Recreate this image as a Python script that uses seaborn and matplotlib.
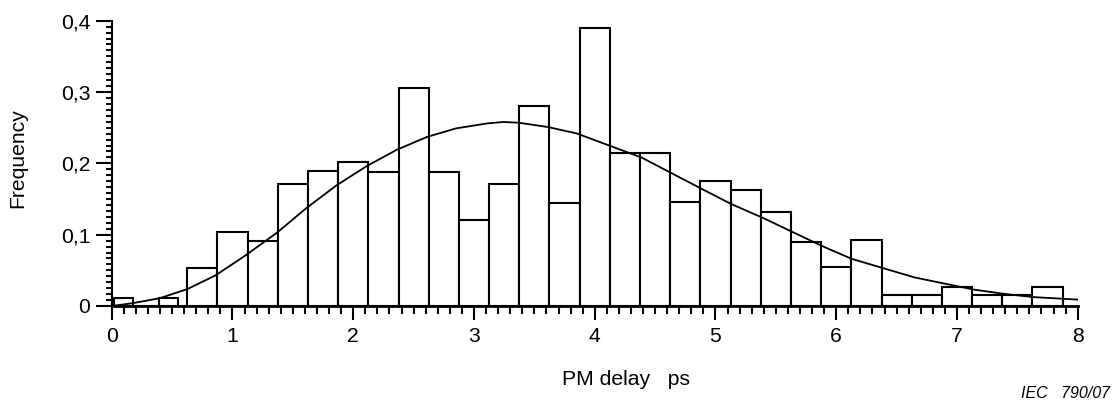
import matplotlib
matplotlib.use("Agg")
import matplotlib.pyplot as plt
from matplotlib.ticker import MultipleLocator
import numpy as np
import seaborn as sns

# ---- data ----
bin_edges = [0.02, 0.175, 0.395, 0.545,
             0.625, 0.875, 1.125, 1.375, 1.625, 1.875, 2.125, 2.375, 2.625, 2.875,
             3.125, 3.375, 3.625, 3.875, 4.125, 4.375, 4.625, 4.875, 5.125, 5.375,
             5.625, 5.875, 6.125, 6.375, 6.625, 6.875, 7.125, 7.375, 7.625, 7.875]
frequency = [0.011, 0.0, 0.011, 0.0,
             0.053, 0.104, 0.091, 0.171, 0.189, 0.202, 0.188, 0.306, 0.188,
             0.120, 0.171, 0.281, 0.144, 0.390, 0.214, 0.214, 0.146, 0.175,
             0.162, 0.132, 0.090, 0.054, 0.092, 0.015, 0.015, 0.026, 0.015,
             0.015, 0.026]

fit_x = [0.0, 0.175, 0.4, 0.63, 0.86, 1.1, 1.37, 1.61, 1.86, 2.11, 2.36, 2.61,
         2.85, 3.11, 3.24, 3.37, 3.61, 3.85, 4.12, 4.39, 4.65, 4.9, 5.13, 5.40,
         5.66, 5.91, 6.13, 6.39, 6.65, 6.88, 7.14, 7.39, 7.63, 8.0]
fit_y = [0.0, 0.004, 0.011, 0.024, 0.043, 0.070, 0.103, 0.137, 0.169, 0.196,
         0.219, 0.237, 0.249, 0.256, 0.258, 0.257, 0.251, 0.242, 0.225, 0.208,
         0.185, 0.163, 0.143, 0.123, 0.102, 0.082, 0.066, 0.053, 0.040, 0.032,
         0.023, 0.017, 0.0125, 0.009]

x_ticks = [0, 1, 2, 3, 4, 5, 6, 7, 8]
x_tick_labels = ["0", "1", "2", "3", "4", "5", "6", "7", "8"]
y_ticks = [0.0, 0.1, 0.2, 0.3, 0.4]
y_tick_labels = ["0", "0,1", "0,2", "0,3", "0,4"]

x_label = "PM delay   ps"
y_label = "Frequency"
source_note = "IEC   790/07"

# ---- style ----
sns.set_theme(style="ticks")
plt.rcParams["font.family"] = ["Liberation Sans", "DejaVu Sans"]
FS = 15.2
plt.rcParams["font.size"] = FS

fig = plt.figure(figsize=(11.13, 4.03), dpi=100)
ax = fig.add_axes([0.1004, 0.2407, 0.8679, 0.7079])

edges = np.array(bin_edges)
centers = (edges[:-1] + edges[1:]) / 2
sns.histplot(x=centers, weights=frequency, bins=bin_edges, stat="count",
             color="white", edgecolor="black", linewidth=1.5, alpha=1.0,
             ax=ax)
sns.lineplot(x=fit_x, y=fit_y, color="black", linewidth=1.3, ax=ax)

ax.set_xlim(0, 8)
ax.set_ylim(0, 0.4)
ax.set_xticks(x_ticks)
ax.set_xticklabels(x_tick_labels)
ax.set_yticks(y_ticks)
ax.set_yticklabels(y_tick_labels)
ax.xaxis.set_minor_locator(MultipleLocator(0.1))
ax.yaxis.set_minor_locator(MultipleLocator(0.1 / 12))

ax.tick_params(axis="x", which="major", direction="out", length=10, width=1.5,
               pad=5, labelsize=FS, color="black", labelcolor="black")
ax.tick_params(axis="x", which="minor", direction="out", length=6, width=1.5,
               color="black")
ax.tick_params(axis="y", which="major", direction="out", length=11.5, width=1.5,
               pad=4, labelsize=FS, color="black", labelcolor="black")
ax.tick_params(axis="y", which="minor", direction="out", length=4.3, width=1.5,
               color="black")

sns.despine(ax=ax)
for side in ("left", "bottom"):
    ax.spines[side].set_color("black")
ax.spines["left"].set_linewidth(1.5)
ax.spines["bottom"].set_linewidth(2.0)

ax.set_xlabel(x_label, fontsize=FS, color="black")
ax.xaxis.label.set_verticalalignment("baseline")
ax.xaxis.set_label_coords((626 - 111.7) / 966, (306 - 385) / 285.3)
ax.set_ylabel(y_label, fontsize=FS, color="black")
ax.yaxis.set_label_coords((18 - 111.7) / 966, (306 - 158) / 285.3)
ax.yaxis.label.set_verticalalignment("center")

fig.text(1110 / 1113, 1 - 398 / 403, source_note, ha="right", va="baseline",
         fontsize=11.5, style="italic", color="black")

ax.set_facecolor("white")
fig.patch.set_facecolor("white")
fig.savefig("out.png", dpi=100)
